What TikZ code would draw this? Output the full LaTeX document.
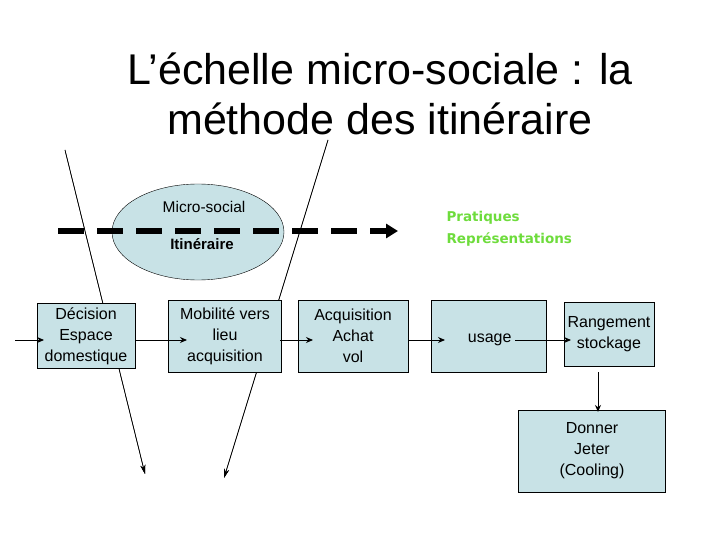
\documentclass[tikz,border=0pt]{standalone}
\usepackage{fontspec}
\setmainfont{Liberation Sans}
\newfontfamily\widefont{DejaVu Sans}
\usetikzlibrary{shapes.geometric,arrows.meta}
\definecolor{boxfill}{RGB}{200,226,230}
\definecolor{grn}{RGB}{110,220,60}
\begin{document}
\begin{tikzpicture}[x=1pt,y=-1pt,
  box/.style={draw=black,fill=boxfill,align=center,font=\fontsize{16}{21}\selectfont,inner sep=0pt},
  arr/.style={-{Stealth[length=7pt,width=6pt]},line width=1pt},
  thin/.style={-{Stealth[length=9pt,width=5pt]},line width=0.6pt}]
\useasboundingbox (0,0) rectangle (720,540);
\node[align=center,font=\fontsize{43}{50}\selectfont] (title) at (380,94) {L’échelle micro-sociale : la\\méthode des itinéraire};
\coordinate (l1s) at (65,150); \coordinate (l1e) at (145,474);
\coordinate (l2s) at (328,140); \coordinate (l2e) at (224,478);
\draw[thin] (l1s) -- (l1e);
\draw[thin] (l2s) -- (l2e);
\node[ellipse,draw=black,fill=boxfill,minimum width=172,minimum height=96] (ell) at (198,232) {};
\node[font=\fontsize{15.5}{18}\selectfont] (ms) at (204,207) {Micro-social};
\node[font=\fontsize{15}{18}\selectfont\bfseries] (it) at (202,244) {Itinéraire};
\draw[thin] (l1s) -- (l1e);
\draw[thin] (l2s) -- (l2e);
\coordinate (ds) at (58,231); \coordinate (de) at (398,231);
\draw[line width=5pt,dash pattern=on 26pt off 13pt,-{Triangle[length=12pt,width=14pt]}] (ds) -- (de);
\node[font=\widefont\fontsize{13.5}{22}\selectfont\bfseries,text=grn,align=left,anchor=west] (pr) at (443,229) {Pratiques\\Représentations};
\node[box,minimum width=98,minimum height=65] (dec) at (86,336) {Décision\\Espace\\domestique};
\node[box,minimum width=113,minimum height=72] (mob) at (225,336) {Mobilité vers\\lieu\\acquisition};
\node[box,minimum width=110,minimum height=72] (acq) at (353,336) {Acquisition\\Achat\\vol};
\node[box,minimum width=115,minimum height=72] (use) at (489,336) {};
\node[font=\fontsize{16}{18}\selectfont,anchor=east] (ut) at (515,340) {usage};
\node[box,minimum width=90,minimum height=64] (ran) at (609,334) {Rangement\\stockage};
\node[box,minimum width=147,minimum height=82] (don) at (592,451) {Donner\\Jeter\\(Cooling)};
\coordinate (in) at (15,340);
\draw[arr] (in) -- (44,340);
\draw[arr] (dec.east |- 0,340) -- (187,340);
\draw[arr] (280,340) -- (313,340);
\draw[arr] (acq.east |- 0,340) -- (445,340);
\draw[arr] (ut.east) -- (571,340);
\draw[arr] (598,372) -- (598,412);
\end{tikzpicture}
\end{document}
